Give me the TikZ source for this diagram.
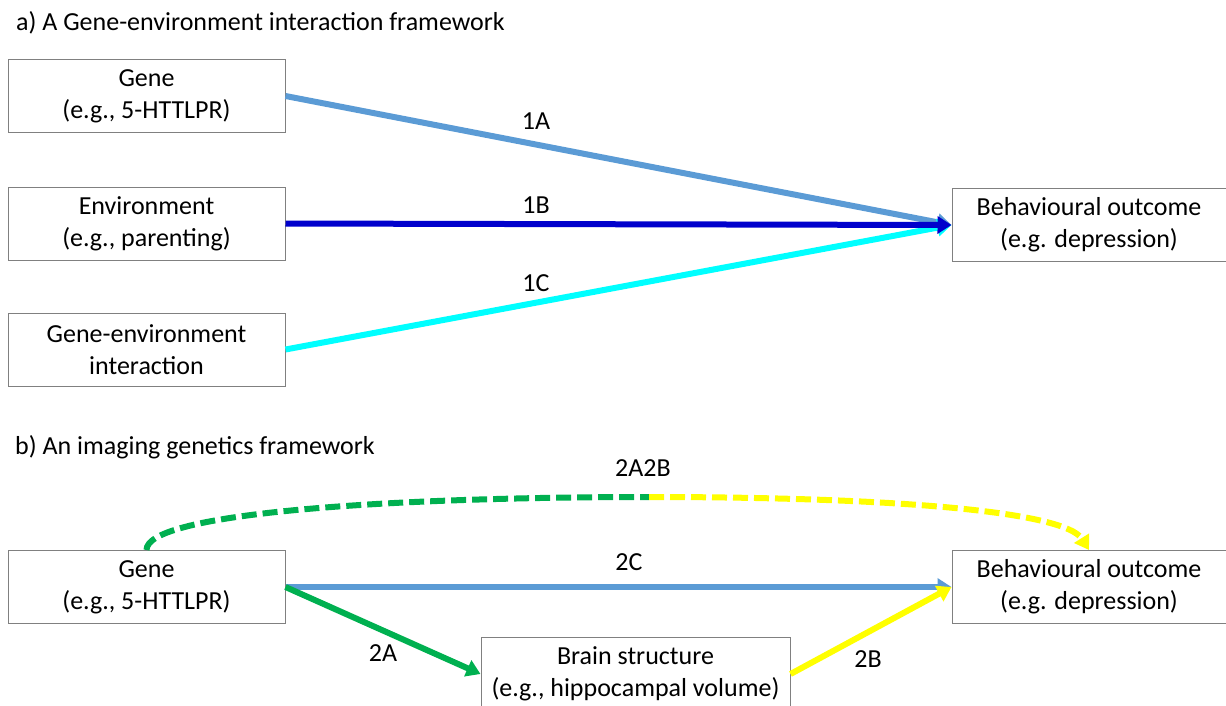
\documentclass[tikz,border=0pt]{standalone}
\usepackage{fontspec}
\setmainfont{Carlito}
\usetikzlibrary{arrows.meta}
\definecolor{lblue}{RGB}{91,155,213}
\definecolor{dblue}{RGB}{0,0,204}
\definecolor{cyanc}{RGB}{0,255,255}
\definecolor{greenc}{RGB}{0,176,80}
\definecolor{yellowc}{RGB}{255,255,0}
\definecolor{boxgray}{RGB}{128,128,128}
\begin{document}
\begin{tikzpicture}[x=1pt,y=-1pt,
  box/.style={draw=boxgray, line width=1pt, rectangle, inner sep=0pt, align=center,
    minimum width=277pt, minimum height=73pt, font=\fontsize{26}{32}\selectfont},
  lbl/.style={font=\fontsize{26}{30}\selectfont, inner sep=0pt},
  conn/.style={line width=6pt, -{Triangle[length=14pt,width=17pt]}},
  dconn/.style={line width=6pt, dash pattern=on 15pt off 6pt},
]
\path[use as bounding box] (0,0) rectangle (1226,705);
\clip (0,0) rectangle (1226,705);
% part a
\node[lbl, anchor=west] (titlea) at (16,23) {a) A Gene-environment interaction framework};
\node[box] (genea) at (146.5,96) {Gene\\(e.g., 5-HTTLPR)};
\node[box] (enva) at (146.5,223.5) {Environment\\(e.g., parenting)};
\node[box] (gxea) at (146.5,349.5) {Gene-environment\\interaction};
\node[box, minimum width=274pt] (behava) at (1089,225) {Behavioural outcome\\(e.g. depression)};
\draw[conn, lblue] (genea.east) -- (behava.west);
\draw[conn, cyanc] (gxea.east) -- (behava.west);
\draw[conn, dblue] (enva.east) -- (behava.west);
\node[lbl] (l1a) at (536,121) {1A};
\node[lbl] (l1b) at (536,205) {1B};
\node[lbl] (l1c) at (536,283) {1C};
% part b
\node[lbl, anchor=west] (titleb) at (15,447) {b) An imaging genetics framework};
\node[box] (geneb) at (146.5,587) {Gene\\(e.g., 5-HTTLPR)};
\node[box, minimum width=274pt] (behavb) at (1089,587) {Behavioural outcome\\(e.g. depression)};
\node[box, minimum width=309pt, minimum height=74pt] (brain) at (635.5,674) {Brain structure\\(e.g., hippocampal volume)};
\coordinate (mid) at (649,497);
\draw[dconn, greenc] (geneb.north) .. controls (146,512) and (400,497) .. (mid);
\draw[dconn, yellowc, -{Triangle[length=14pt,width=17pt]}] (mid) .. controls (900,497) and (1065,512) .. (behavb.north);
\draw[conn, lblue] (geneb.east) -- (behavb.west);
\draw[conn, greenc] (geneb.east) -- (brain.west);
\draw[conn, yellowc] (brain.east) -- (behavb.west);
\node[lbl] (l2a2b) at (643,468) {2A2B};
\node[lbl] (l2c) at (629,562) {2C};
\node[lbl] (l2a) at (383,653) {2A};
\node[lbl] (l2b) at (868,659) {2B};
\end{tikzpicture}
\end{document}
